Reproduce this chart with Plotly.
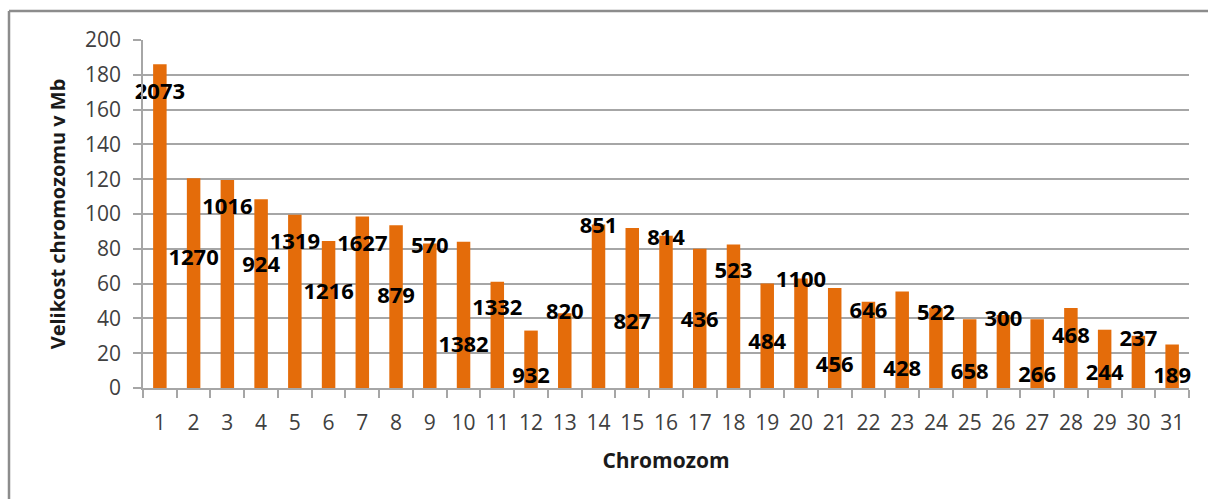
import plotly.graph_objects as go

# Chromosome numbers, chromosome sizes (Mb) and gene counts per chromosome
chromosomes = [str(i) for i in range(1, 32)]
size_mb = [186, 120.5, 119.5, 108.5, 99.5, 84.5, 98.5, 93.5, 83, 84,
           61, 33, 43, 94, 92, 87.5, 80, 82.5, 60, 63,
           57.5, 49.5, 55.5, 46, 39.5, 42, 39.5, 46, 33.5, 30, 25]
gene_counts = [2073, 1270, 1016, 924, 1319, 1216, 1627, 879, 570, 1382,
               1332, 932, 820, 851, 827, 814, 436, 523, 484, 1100,
               456, 646, 428, 522, 658, 300, 266, 468, 244, 237, 189]
# vertical placement of each gene-count label (axis units)
label_y = [169, 74, 103, 70, 83, 54.5, 82, 52, 80.5, 24,
           45, 6, 43, 92, 37, 85.5, 38.5, 66.5, 25.5, 61,
           12.5, 43.5, 10, 42, 8.5, 39, 6.5, 29, 7.5, 27.5, 6]

W, H = 1208, 499
L, R, T, B = 143, 1189, 40, 388  # plot area in pixels

FONT = "Open Sans"
ORANGE = "#E46C0A"
GRID = "#A6A6A6"

fig = go.Figure()
fig.add_trace(go.Bar(
    x=chromosomes, y=size_mb,
    marker=dict(color=ORANGE, line=dict(width=0)),
    hoverinfo="x+y",
))
fig.add_trace(go.Scatter(
    x=chromosomes, y=label_y, mode="text",
    text=[str(g) for g in gene_counts],
    textposition="middle center",
    textfont=dict(family=FONT, size=22, color="#000000", weight="bold"),
    cliponaxis=False,
    hoverinfo="skip",
))

def px_x(px):
    return (px - L) / (R - L)

def px_y(py):
    return (B - py) / (B - T)

# chart frame (top and left edges)
frame = dict(color="#8C8C8C", width=2.5)
shapes = [
    dict(type="line", xref="paper", yref="paper",
         x0=px_x(9), x1=px_x(W + 5), y0=px_y(11), y1=px_y(11), line=frame),
    dict(type="line", xref="paper", yref="paper",
         x0=px_x(9), x1=px_x(9), y0=px_y(11), y1=px_y(H + 5), line=frame),
]

fig.update_layout(
    width=W, height=H,
    margin=dict(l=L, r=W - R, t=T, b=H - B, pad=0),
    paper_bgcolor="white", plot_bgcolor="white",
    showlegend=False,
    bargap=0.6,
    shapes=shapes,
    xaxis=dict(
        type="category",
        range=[-0.5, len(chromosomes) - 0.5],
        showgrid=False,
        showline=True, linecolor=GRID, linewidth=1.5,
        ticks="outside", tickson="boundaries", ticklen=8,
        tickcolor=GRID, tickwidth=1.5,
        ticklabelstandoff=15,
        tickfont=dict(family=FONT, size=21, color="#404040"),
        title=dict(text="Chromozom", standoff=18,
                   font=dict(family=FONT, size=21, color="#1a1a1a", weight="bold")),
    ),
    yaxis=dict(
        range=[0, 200], dtick=20,
        showgrid=True, gridcolor=GRID, gridwidth=1.5,
        showline=True, linecolor=GRID, linewidth=1.5,
        ticks="outside", ticklen=8, tickcolor=GRID, tickwidth=1.5,
        ticklabelstandoff=8,
        tickfont=dict(family=FONT, size=21, color="#404040"),
        zeroline=False,
        title=dict(text="Velikost chromozomu v Mb", standoff=14,
                   font=dict(family=FONT, size=20, color="#1a1a1a", weight="bold")),
    ),
)

fig.write_html("out.html")
